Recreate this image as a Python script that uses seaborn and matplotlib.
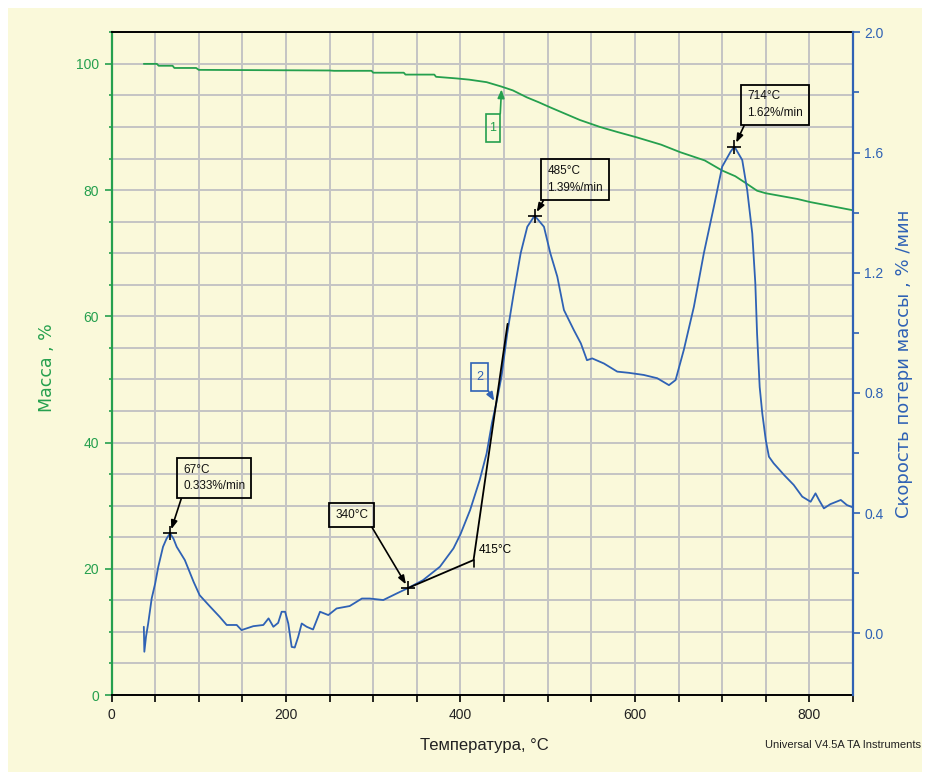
import matplotlib
matplotlib.use("Agg")
import matplotlib.pyplot as plt
from matplotlib.patches import Rectangle
from matplotlib.ticker import MultipleLocator, FixedLocator
import pandas as pd
import seaborn as sns

# --- TGA: sample mass, % ---
temp_mass = [37, 52, 54, 70, 72, 97, 100, 250, 255, 298, 300, 335, 337, 370, 372,
             395, 410, 430, 447, 460, 476, 490, 503, 520, 537, 560, 580, 601, 630,
             652, 680, 700, 715, 725, 740, 750, 770, 786, 801, 820, 850]
mass = [100.0, 100.0, 99.7, 99.7, 99.35, 99.35, 99.05, 98.95, 98.9, 98.9, 98.6,
        98.6, 98.3, 98.3, 97.95, 97.7, 97.5, 97.1, 96.4, 95.8, 94.7, 93.9, 93.1,
        92.1, 91.1, 90.0, 89.2, 88.4, 87.2, 86.0, 84.7, 83.1, 82.2, 81.3, 79.9,
        79.5, 79.0, 78.6, 78.1, 77.6, 76.8]

# --- DTG: mass loss rate, %/min ---
temp_dtg = [37, 37.6, 39.5, 42, 46, 50, 53.6, 59, 63, 67, 71, 74.7, 84, 94, 101,
            113, 124, 132, 143.5, 149, 162.5, 174, 180, 185.5, 191, 195, 199,
            202.6, 206.5, 210, 214, 218, 223.7, 231, 239, 248.5, 258, 273, 287,
            296, 311.5, 327, 340, 357, 376.5, 392, 400, 411, 422, 430, 436, 441,
            447, 453.6, 461, 469, 476.6, 485, 495.7, 503, 511, 518.6, 530, 538,
            545, 551, 564.5, 579.7, 593, 610, 625.6, 639, 646.6, 656, 667.6, 679,
            690.5, 700, 709.7, 714, 723, 728.7, 734.5, 738, 740, 743, 746, 750,
            753.6, 759, 771, 782, 791.8, 801.4, 807, 811, 816.6, 824, 836, 843, 850]
dtg = [0.022, -0.061, -0.011, 0.033, 0.116, 0.166, 0.222, 0.288, 0.315, 0.333,
       0.315, 0.288, 0.244, 0.172, 0.127, 0.089, 0.055, 0.028, 0.028, 0.011,
       0.024, 0.028, 0.05, 0.022, 0.035, 0.072, 0.072, 0.033, -0.045, -0.047,
       -0.011, 0.033, 0.022, 0.013, 0.072, 0.061, 0.083, 0.091, 0.116, 0.116,
       0.111, 0.133, 0.151, 0.177, 0.222, 0.283, 0.33, 0.41, 0.51, 0.599, 0.699,
       0.765, 0.854, 0.998, 1.131, 1.265, 1.353, 1.39, 1.353, 1.265, 1.187,
       1.076, 1.009, 0.965, 0.909, 0.915, 0.898, 0.871, 0.867, 0.86, 0.849,
       0.826, 0.843, 0.943, 1.087, 1.265, 1.42, 1.553, 1.603, 1.62, 1.575,
       1.475, 1.331, 1.165, 0.998, 0.82, 0.732, 0.643, 0.588, 0.566, 0.527,
       0.494, 0.455, 0.438, 0.466, 0.444, 0.416, 0.43, 0.444, 0.427, 0.419]

# Marked DTG points and their labels
peak_temp = [67, 340, 485, 714]
peak_rate = [0.333, 0.151, 1.39, 1.62]
peak_labels = ["67°C\n0.333%/min", "340°C", "485°C\n1.39%/min", "714°C\n1.62%/min"]

# Onset construction: baseline tangent and inflection tangent
tangent_temp = [340, 415, 454]
tangent_rate = [0.151, 0.244, 1.03]
onset_label = "415°C"

x_ticks = [0, 200, 400, 600, 800]
mass_ticks = [0, 20, 40, 60, 80, 100]
rate_ticks = [0.0, 0.4, 0.8, 1.2, 1.6, 2.0]

GREEN = "#25A04E"
BLUE = "#2F62B5"
PANEL = "#FAF9DA"
GRID = "#C4C4C4"

sns.set_style("ticks")
plt.rcParams["font.family"] = ["Liberation Sans", "DejaVu Sans"]

mass_df = pd.DataFrame({"T": temp_mass, "mass": mass})
dtg_df = pd.DataFrame({"T": temp_dtg, "rate": dtg})

fig = plt.figure(figsize=(9.28, 7.73), dpi=100, facecolor="white")
fig.patches.append(Rectangle((0.0086, 0.0013), 0.985, 0.9884,
                             transform=fig.transFigure, facecolor=PANEL,
                             edgecolor="none", zorder=-10))

ax1 = fig.add_axes([0.1202, 0.1009, 0.799, 0.8573])
ax1.set_facecolor(PANEL)
ax2 = ax1.twinx()

sns.lineplot(data=mass_df, x="T", y="mass", ax=ax1, color=GREEN,
             linewidth=1.3, estimator=None, zorder=3)
sns.lineplot(data=dtg_df, x="T", y="rate", ax=ax2, color=BLUE,
             linewidth=1.3, estimator=None, zorder=3)

ax1.set_xlim(0, 850)
ax1.set_ylim(0, 105)
ax2.set_ylim(-0.205, 2.0)
ax1.set_xlabel("")
ax1.set_ylabel("")
ax2.set_ylabel("")

ax1.xaxis.set_major_locator(FixedLocator(x_ticks))
ax1.xaxis.set_minor_locator(MultipleLocator(50))
ax1.yaxis.set_major_locator(FixedLocator(mass_ticks))
ax1.yaxis.set_minor_locator(MultipleLocator(5))
ax2.yaxis.set_major_locator(FixedLocator(rate_ticks))
ax2.yaxis.set_minor_locator(FixedLocator([0.2, 0.6, 1.0, 1.4, 1.8]))
ax2.set_yticklabels([f"{v:.1f}" for v in rate_ticks])

ax1.grid(which="both", color=GRID, linewidth=1.4, zorder=0)
ax1.set_axisbelow(True)
ax2.grid(False)

ax1.tick_params(axis="x", which="both", direction="out", length=5, width=1.2,
                color="black", labelcolor="#222222", labelsize=10, pad=4,
                top=False)
ax1.tick_params(axis="y", which="major", direction="out", length=5, width=1.2,
                color=GREEN, labelcolor=GREEN, labelsize=10, pad=4, right=False)
ax1.tick_params(axis="y", which="minor", direction="out", length=2.5,
                width=1.2, color=GREEN, right=False)
ax2.tick_params(axis="y", which="major", direction="out", length=5, width=1.2,
                color=BLUE, labelcolor=BLUE, labelsize=10, pad=3)
ax2.tick_params(axis="y", which="minor", direction="out", length=4,
                width=1.2, color=BLUE)

for side in ("top", "bottom"):
    ax1.spines[side].set_color("black")
    ax1.spines[side].set_linewidth(1.4)
ax1.spines["left"].set_color(GREEN)
ax1.spines["left"].set_linewidth(1.6)
ax1.spines["right"].set_visible(False)
for side in ("top", "bottom", "left"):
    ax2.spines[side].set_visible(False)
ax2.spines["right"].set_color(BLUE)
ax2.spines["right"].set_linewidth(1.6)

# Peak markers
ax2.scatter(peak_temp, peak_rate, marker="+", s=110, color="black",
            linewidths=1.2, zorder=5)

# Onset tangent lines
ax2.plot(tangent_temp, tangent_rate, color="black", linewidth=1.3, zorder=4)
ax2.plot([tangent_temp[1], tangent_temp[1]],
         [tangent_rate[1], tangent_rate[1] - 0.023],
         color="black", linewidth=1.2, zorder=4)
ax2.text(420.4, 0.277, onset_label, fontsize=8.5, ha="left", va="center",
         color="black", zorder=6)

# Labelled boxes pointing at the marked points
box_kw = dict(boxstyle="square,pad=0.5", facecolor="none", edgecolor="black",
              linewidth=1.3)
text_pos = [(82.3, 0.517), (256.2, 0.395), (499.5, 1.510), (728.7, 1.759)]
arrow_from = [(0, 0), (1, 0), (0, 0), (0, 0)]
for (tx, ty), lbl, (px, py), rel in zip(text_pos, peak_labels,
                                        zip(peak_temp, peak_rate), arrow_from):
    ax2.annotate(lbl, xy=(px, py), xytext=(tx, ty), ha="left", va="center",
                 fontsize=8.5, linespacing=1.5, color="#111111", bbox=box_kw,
                 zorder=6,
                 arrowprops=dict(arrowstyle="-|>,head_length=0.6,head_width=0.22",
                                 color="black", linewidth=1.2, shrinkA=0,
                                 shrinkB=3, relpos=rel))

# Curve tags "1" (mass) and "2" (rate)
ax1.add_patch(Rectangle((428.9, 87.6), 16.7, 4.5, facecolor="none",
                        edgecolor=GREEN, linewidth=1.2, zorder=6))
ax1.text(437.3, 89.85, "1", color=GREEN, fontsize=9, ha="center",
         va="center", zorder=6)
ax1.annotate("", xy=(447.2, 96.4), xytext=(445.6, 92.1),
             arrowprops=dict(arrowstyle="-|>,head_length=0.5,head_width=0.2",
                             color=GREEN, linewidth=1.2, shrinkA=0, shrinkB=2),
             zorder=6)
ax2.add_patch(Rectangle((411.7, 0.807), 20.2, 0.093, facecolor="none",
                        edgecolor=BLUE, linewidth=1.2, zorder=6))
ax2.text(421.8, 0.854, "2", color=BLUE, fontsize=9, ha="center",
         va="center", zorder=6)
ax2.annotate("", xy=(439.5, 0.77), xytext=(431.9, 0.807),
             arrowprops=dict(arrowstyle="-|>,head_length=0.5,head_width=0.2",
                             color=BLUE, linewidth=1.2, shrinkA=0, shrinkB=1),
             zorder=6)

# Axis titles and instrument footer
fig.text(0.0506, 0.525, "Масса , %", rotation=90, color=GREEN, fontsize=12.5,
         ha="center", va="center", family=["DejaVu Sans"])
fig.text(0.9736, 0.529, "Скорость потери массы , % /мин", rotation=90,
         color=BLUE, fontsize=13, ha="center", va="center",
         family=["DejaVu Sans"])
fig.text(0.5216, 0.0362, "Температура, °C", color="#222222", fontsize=12,
         ha="center", va="center")
fig.text(0.9925, 0.0362, "Universal V4.5A TA Instruments", color="#222222",
         fontsize=8, ha="right", va="center")

fig.savefig("out.png", dpi=100, facecolor=fig.get_facecolor())
